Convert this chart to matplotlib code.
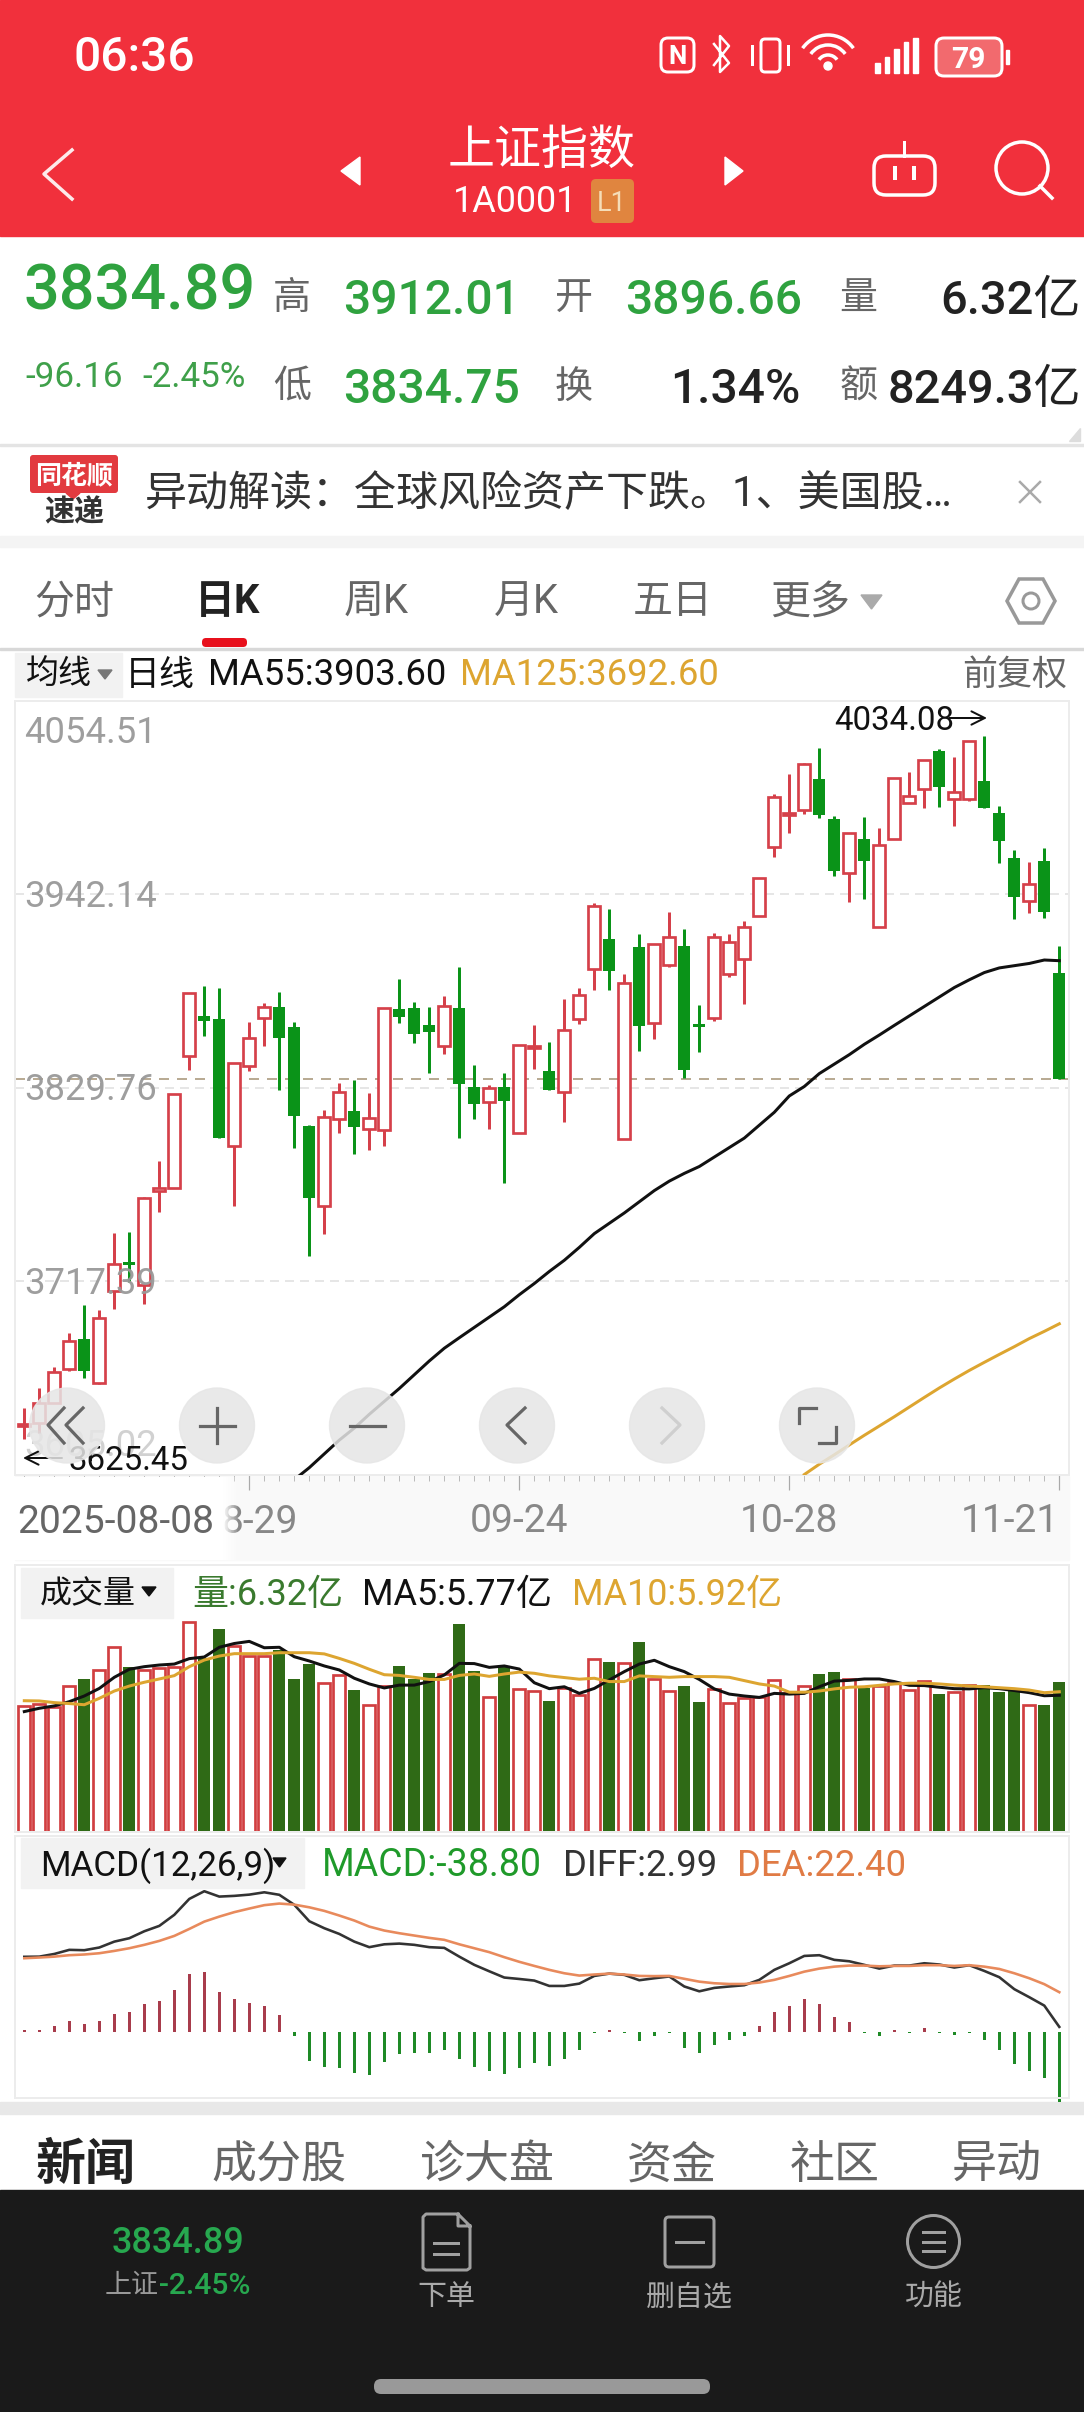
import matplotlib
matplotlib.use("Agg")
import matplotlib.pyplot as plt
from matplotlib.patches import Arc, Circle, FancyBboxPatch, Polygon, Rectangle
import numpy as np

W, H = 1084, 2412
FONT = ["Roboto", "Noto Sans CJK SC", "DejaVu Sans"]

# daily candles, 2025-08-08 .. 2025-11-21
OPEN = [3633.0, 3635.2, 3646.4, 3666.2, 3683.8, 3658.0, 3711.9, 3728.3, 3715.2, 3770.0,
        3771.3, 3848.2, 3871.5, 3869.7, 3795.9, 3842.6, 3870.1, 3876.9, 3865.3, 3807.5,
        3761.0, 3811.6, 3816.3, 3806.0, 3805.4, 3875.7, 3876.3, 3866.3, 3854.2, 3876.3,
        3830.0, 3821.3, 3830.0, 3803.7, 3853.0, 3839.7, 3827.5, 3869.5, 3898.6, 3916.0,
        3800.0, 3911.4, 3867.2, 3901.1, 3912.3, 3866.8, 3870.5, 3895.9, 3904.4, 3929.8,
        3969.9, 3988.0, 3991.2, 4009.0, 3985.9, 3954.8, 3974.1, 3923.0, 3974.1, 3995.5,
        4003.2, 4025.5, 3997.6, 3997.6, 4008.2, 3989.6, 3963.1, 3938.3, 3961.5, 3896.66]
CLOSE = [3634.2, 3646.4, 3664.8, 3682.6, 3665.4, 3695.8, 3727.4, 3726.8, 3765.9, 3771.3,
         3825.95, 3884.65, 3868.8, 3800.3, 3844.3, 3858.5, 3876.9, 3858.5, 3813.5, 3765.5,
         3812.6, 3827.1, 3807.2, 3812.0, 3876.3, 3871.1, 3860.8, 3862.4, 3877.3, 3831.8,
         3820.3, 3829.4, 3821.9, 3854.6, 3854.2, 3828.5, 3863.3, 3883.7, 3935.4, 3897.8,
         3890.5, 3865.7, 3913.3, 3917.6, 3840.1, 3865.2, 3917.6, 3914.7, 3923.4, 3951.5,
         3999.0, 3989.6, 4017.9, 3988.3, 3955.9, 3978.0, 3961.5, 3970.8, 4009.6, 3999.3,
         4020.2, 4004.3, 4001.8, 4031.3, 3992.1, 3973.4, 3940.8, 3948.0, 3932.1, 3834.89]
HIGH = [3643.5, 3655.1, 3667.3, 3687.1, 3703.3, 3700.6, 3745.2, 3746.2, 3766.5, 3787.4,
        3825.95, 3884.65, 3888.9, 3887.5, 3844.3, 3868.2, 3879.2, 3885.6, 3868.2, 3808.1,
        3816.8, 3832.7, 3834.3, 3826.9, 3876.3, 3893.0, 3879.8, 3876.9, 3883.1, 3900.1,
        3843.0, 3831.4, 3838.1, 3854.6, 3866.2, 3856.5, 3881.2, 3887.6, 3937.0, 3933.5,
        3895.7, 3918.9, 3913.3, 3931.7, 3921.8, 3877.9, 3919.5, 3918.9, 3926.7, 3951.5,
        4000.3, 4011.9, 4018.3, 4027.0, 3987.7, 3978.0, 3986.9, 3980.5, 4009.6, 4013.1,
        4020.2, 4026.4, 4021.8, 4031.3, 4034.08, 3993.5, 3967.9, 3960.8, 3968.9, 3912.01]
LOW = [3625.45, 3629.0, 3646.4, 3665.3, 3661.1, 3657.6, 3701.4, 3717.0, 3704.1, 3757.6,
       3771.3, 3840.1, 3860.0, 3800.3, 3761.0, 3839.7, 3854.0, 3828.5, 3794.6, 3732.0,
       3744.8, 3803.3, 3791.3, 3793.6, 3795.9, 3867.2, 3856.0, 3838.5, 3849.4, 3800.8,
       3811.6, 3806.0, 3774.2, 3803.7, 3840.5, 3828.5, 3809.7, 3866.8, 3886.6, 3886.6,
       3800.0, 3851.3, 3858.1, 3900.0, 3835.6, 3850.8, 3868.8, 3894.0, 3878.3, 3929.8,
       3964.0, 3978.0, 3988.7, 3986.3, 3953.0, 3937.9, 3939.5, 3923.0, 3974.1, 3995.1,
       3992.1, 3993.1, 3982.1, 3996.2, 3992.1, 3960.2, 3927.7, 3931.1, 3928.6, 3834.75]

MA55_START = 18
MA55 = [3602, 3609, 3617, 3625, 3632, 3640, 3647.5, 3655, 3663, 3671, 3678.4, 3684.5, 3690.5,
        3696.5, 3702.5, 3709.5, 3716, 3723, 3729.5, 3737, 3745, 3751, 3757, 3763.5, 3770,
        3775.5, 3780, 3784, 3789.5, 3795, 3800.5, 3808, 3815.5, 3825, 3830.5, 3838, 3843.5,
        3849, 3855, 3860.4, 3866, 3871.5, 3877, 3882.5, 3888, 3892.5, 3896.7, 3899.4, 3900.7,
        3902, 3904, 3903.6]
MA125_START = 52
MA125 = [3605, 3611, 3616.5, 3622.2, 3627.8, 3633.2, 3638.6, 3644.2, 3649.8, 3655.3, 3660.5,
         3665.5, 3670.2, 3674.8, 3679.3, 3684, 3688.2, 3692.6]

PRICE_TICKS = [4054.51, 3942.14, 3829.76, 3717.39, 3605.02]
DATE_TICKS = [15, 33, 51, 69]
DATE_LABELS = ["", "09-24", "10-28", "11-21"]  # the first one is half hidden, drawn by hand below

VOLUME = [5.32, 5.40, 5.29, 6.16, 6.47, 6.84, 7.80, 6.95, 6.84, 6.91, 6.95, 8.88, 7.33, 8.59,
          7.86, 7.43, 7.43, 7.69, 6.44, 7.09, 6.30, 6.63, 5.99, 5.36, 6.16, 7.01, 6.44, 6.73,
          6.67, 8.77, 6.81, 5.71, 6.95, 6.05, 5.95, 5.52, 6.06, 5.78, 7.29, 7.19, 7.12, 8.01,
          6.46, 5.97, 6.18, 5.50, 6.04, 5.43, 5.64, 5.71, 6.42, 5.85, 6.16, 6.68, 6.75, 6.44,
          6.06, 6.16, 6.28, 6.00, 6.39, 5.82, 5.91, 6.20, 6.19, 5.92, 6.06, 5.35, 5.35, 6.32]
VOL_MA5 = [5.08, 5.22, 5.32, 5.50, 5.74, 6.06, 6.53, 6.87, 6.98, 7.05, 7.09, 7.32, 7.39, 7.80,
           7.96, 8.05, 7.78, 7.80, 7.40, 7.22, 7.01, 6.84, 6.49, 6.25, 6.08, 6.20, 6.20, 6.35,
           6.63, 7.12, 7.11, 6.95, 7.01, 6.88, 6.30, 6.05, 6.13, 5.85, 6.06, 6.42, 6.77, 7.09,
           7.25, 6.98, 6.77, 6.44, 6.04, 5.82, 5.74, 5.68, 5.85, 5.82, 5.85, 6.13, 6.37, 6.40,
           6.46, 6.46, 6.35, 6.19, 6.18, 6.11, 6.05, 6.04, 6.09, 6.05, 5.97, 5.88, 5.75, 5.77]
VOL_MA10 = [5.54, 5.53, 5.46, 5.42, 5.37, 5.64, 5.95, 6.16, 6.32, 6.46, 6.60, 6.98, 7.26, 7.43,
            7.53, 7.53, 7.53, 7.57, 7.57, 7.57, 7.52, 7.33, 7.12, 6.87, 6.64, 6.61, 6.53, 6.44,
            6.44, 6.61, 6.67, 6.57, 6.67, 6.75, 6.70, 6.59, 6.52, 6.45, 6.49, 6.35, 6.35, 6.59,
            6.56, 6.53, 6.56, 6.56, 6.56, 6.53, 6.39, 6.25, 6.16, 5.90, 5.90, 5.95, 6.04, 6.11,
            6.13, 6.19, 6.25, 6.28, 6.28, 6.25, 6.20, 6.16, 6.13, 6.09, 6.05, 5.99, 5.88, 5.92]

MACD = [1.0, 1.5, 3.5, 6.3, 4.7, 6.3, 10.4, 11.4, 15.9, 17.3, 23.5, 32.6, 33.6, 22.6, 18.8, 16.2,
        14.7, 9.5, -1.9, -15.9, -19.2, -19.8, -22.6, -23.7, -16.4, -12.3, -11.6, -11.4, -9.9,
        -14.9, -19.6, -21.5, -23.3, -19.8, -17.3, -18.7, -14.9, -9.9, -0.3, 1.1, -0.3, -4.8,
        -1.9, -0.3, -9.1, -11.9, -6.9, -4.3, -1.9, 3.5, 11.6, 14.7, 18.7, 16.0, 8.8, 5.8, -0.6,
        -2.0, 1.1, -0.6, 2.4, -0.6, -1.3, -0.4, -4.3, -10.0, -17.7, -21.5, -25.4, -38.8]
DIFF = [42.2, 42.3, 43.8, 46.1, 45.9, 47.4, 50.7, 52.6, 56.5, 59.5, 65.7, 74.6, 78.9, 75.9, 76.3,
        77.0, 78.3, 76.9, 71.3, 62.1, 58.2, 55.0, 50.7, 47.6, 49.2, 49.6, 48.9, 47.6, 47.2, 42.3,
        37.7, 34.1, 30.6, 29.8, 28.9, 25.9, 25.9, 27.2, 31.5, 32.8, 32.1, 29.1, 30.2, 31.2, 25.6,
        22.9, 24.8, 25.6, 26.3, 29.3, 34.9, 38.6, 42.7, 43.1, 40.5, 39.7, 37.7, 35.6, 37.3, 37.3,
        38.6, 37.9, 36.2, 37.5, 34.3, 30.8, 24.1, 19.6, 14.9, 2.99]
DEA = [41.4, 41.8, 42.3, 43.1, 43.5, 44.2, 45.5, 47.0, 48.9, 51.1, 53.9, 57.8, 61.9, 64.7, 67.2,
       69.2, 71.1, 72.0, 71.4, 69.9, 67.9, 65.3, 62.5, 59.1, 56.9, 55.4, 54.1, 52.8, 51.7, 49.2,
       47.0, 44.8, 42.0, 39.4, 37.1, 34.9, 33.0, 31.7, 32.3, 32.8, 32.3, 31.5, 31.4, 31.5, 29.9,
       28.3, 27.4, 27.0, 27.0, 27.8, 29.3, 31.5, 33.9, 35.6, 36.7, 37.3, 37.3, 36.9, 37.1, 37.1,
       37.5, 37.5, 37.1, 37.5, 36.7, 35.4, 33.0, 30.2, 26.9, 22.4]

RED = "#D5404A"
GREEN = "#0A9318"
VOL_RED = "#D13E40"
VOL_GREEN = "#2F6A16"
GOLD = "#DDA530"
PX = 0.72  # one pixel in points at dpi 100

fig = plt.figure(figsize=(W / 100, H / 100), dpi=100, facecolor="white")


def px_axes(left, top, right, bottom, zorder=1):
    ax = fig.add_axes([left / W, 1 - bottom / H, (right - left) / W, (bottom - top) / H], zorder=zorder)
    ax.patch.set_alpha(0)
    return ax


def overlay(zorder):
    ax = px_axes(0, 0, W, H, zorder)
    ax.set_xlim(0, W)
    ax.set_ylim(H, 0)
    ax.axis("off")
    return ax


def label(ax, x, yc, s, size, color, ha="left", weight="normal", alpha=1.0, z=10):
    # yc is the centre of the glyphs, size the em in pixels
    return ax.text(x, yc + 0.36 * size, s, fontsize=size * PX, color=color, ha=ha, va="baseline",
                   family=FONT, fontweight=weight, alpha=alpha, zorder=z)


def rbox(ax, x0, y0, x1, y1, r, **kw):
    ax.add_patch(FancyBboxPatch((x0 + r, y0 + r), x1 - x0 - 2 * r, y1 - y0 - 2 * r,
                                boxstyle=f"round,pad={r},rounding_size={r}", **kw))


def style_panel(ax, left, right):
    ax.set_xlim((left - 24.3) / 15, (right - 24.3) / 15)
    for sp in ax.spines.values():
        sp.set_color("#ECECEC")
        sp.set_linewidth(2 * PX)
    ax.tick_params(left=False, labelleft=False, bottom=False, labelbottom=False)


bg = overlay(0)
fg = overlay(5)
FL, FR = 15.4, 1068.5
x = np.arange(len(OPEN))
up = np.array(CLOSE) >= np.array(OPEN)

# ---- page background
bg.add_patch(Rectangle((0, 0), W, 236, color="#F1303C"))
bg.add_patch(Rectangle((0, 444), W, 2, color="#E4E4E4"))
bg.add_patch(Rectangle((0, 536), W, 11, color="#F4F4F4"))
bg.add_patch(Rectangle((0, 648), W, 1.5, color="#D8D8D8"))
bg.add_patch(Rectangle((0, 2102), W, 12, color="#E8E8E8"))
bg.add_patch(Rectangle((0, 2190), W, H - 2190, color="#1A1A1A"))
bg.add_patch(Rectangle((FL, 1476), FR - FL, 84, color="#F9F9F9"))

# ---- candles
ax = px_axes(FL, 701, FR, 1474.5)
style_panel(ax, FL, FR)
ax.set_ylim(3605.02, 4054.51)
for p in PRICE_TICKS[1:4]:
    ax.axhline(p, color="#DEDEDE", lw=1.5 * PX, dashes=(6, 4), zorder=1)
ax.axhline(CLOSE[-1], color="#B9AB94", lw=2 * PX, dashes=(5, 4), zorder=1.5)
for i in x:
    c = RED if up[i] else GREEN
    ax.vlines(i, LOW[i], HIGH[i], color=c, lw=3 * PX, zorder=2)
    if up[i]:
        ax.bar(i, CLOSE[i] - OPEN[i], bottom=OPEN[i], width=0.82, facecolor="white",
               edgecolor=c, linewidth=2.7 * PX, zorder=3)
    else:
        ax.bar(i, OPEN[i] - CLOSE[i], bottom=CLOSE[i], width=0.8, color=c, zorder=3)
ax.plot(np.arange(len(MA55)) + MA55_START, MA55, color="#111111", lw=3 * PX, zorder=4)
ax.plot(np.arange(len(MA125)) + MA125_START, MA125, color=GOLD, lw=3 * PX, zorder=4)
ax.set_xticks(DATE_TICKS)
ax.set_xticks(x, minor=True)
ax.tick_params(axis="x", which="major", bottom=True, labelbottom=True, length=15 * PX, width=1.2 * PX,
               color="#AAAAAA", pad=13 * PX)
ax.tick_params(axis="x", which="minor", bottom=True, length=6 * PX, width=1 * PX, color="#BBBBBB")
ax.set_xticklabels(DATE_LABELS, family=FONT, fontsize=39 * PX, color="#888888")
ax.get_xticklabels()[-1].set_ha("right")

# ---- volume
ax_vol = px_axes(FL, 1565, FR, 1831.7)
style_panel(ax_vol, FL, FR)
ax_vol.set_ylim(0, 11.28)
for i in x:
    if up[i]:
        ax_vol.bar(i, VOLUME[i], width=0.82, facecolor="white", edgecolor=VOL_RED,
                   linewidth=2.7 * PX, zorder=2)
    else:
        ax_vol.bar(i, VOLUME[i], width=0.8, color=VOL_GREEN, zorder=2)
ax_vol.plot(x, VOL_MA5, color="#111111", lw=3 * PX, zorder=3)
ax_vol.plot(x, VOL_MA10, color=GOLD, lw=3 * PX, zorder=4)

# ---- macd
ax_macd = px_axes(FL, 1836, FR, 2098)
style_panel(ax_macd, FL, FR)
ax_macd.set_ylim(-36.8, 109.8)
hist_colors = ["#A83C4C" if v > 0 else "#1E8A26" for v in MACD]
ax_macd.bar(x, MACD, width=0.2, color=hist_colors, clip_on=False, zorder=2)
ax_macd.plot(x, DIFF, color="#333333", lw=2.6 * PX, zorder=3)
ax_macd.plot(x, DEA, color="#E88A5C", lw=2.6 * PX, zorder=4)

# ---- header
label(fg, 73, 54, "06:36", 48, "white", weight="medium")
rbox(fg, 661, 38, 694, 72, 7, fc="none", ec="white", lw=3 * PX)
label(fg, 677.5, 55, "N", 26, "white", ha="center", weight="bold")
fg.plot([714, 729, 720, 720, 729, 714], [44, 63, 72, 36, 46, 65], color="white", lw=2.5 * PX)
rbox(fg, 761, 39, 780, 72, 4, fc="none", ec="white", lw=3 * PX)
fg.plot([752, 752], [46, 64], color="white", lw=3 * PX)
fg.plot([788, 788], [46, 64], color="white", lw=3 * PX)
for r in (11, 21, 31):
    fg.add_patch(Arc((828, 66), 2 * r, 2 * r, theta1=215, theta2=325, color="white", lw=3.5 * PX))
fg.add_patch(Circle((828, 66), 4, color="white"))
for k, h in enumerate((10, 16, 24, 31, 35)):
    fg.add_patch(Rectangle((875 + k * 9.5, 73 - h), 4.5, h, color="white"))
rbox(fg, 936, 38, 1002, 76, 8, fc="#F26A6E", ec="white", lw=3 * PX)
fg.add_patch(Rectangle((1006, 50), 3, 14, color="white"))
label(fg, 968, 57, "79", 30, "white", ha="center", weight="bold")

label(fg, 542, 147, "上证指数", 47, "white", ha="center")
fg.add_patch(Polygon([[360, 157], [360, 185], [341, 171]], color="white"))
fg.add_patch(Polygon([[725, 157], [725, 185], [743, 171]], color="white"))
label(fg, 453, 199, "1A0001", 36, "white")
rbox(fg, 591, 179, 634, 223, 5, fc="#E0853F", ec="none")
label(fg, 612, 201, "L1", 27, "#F5DDB8", ha="center")
fg.plot([72, 44, 72], [150, 174, 199], color="white", lw=3.5 * PX, alpha=0.9)
rbox(fg, 874, 156, 935, 195, 12, fc="none", ec="white", lw=3.5 * PX)
fg.plot([904, 904], [142, 156], color="white", lw=3 * PX)
fg.plot([895, 895], [168, 178], color="white", lw=4 * PX)
fg.plot([914, 914], [168, 178], color="white", lw=4 * PX)
fg.add_patch(Circle((1022, 168), 26, fc="none", ec="white", lw=3.5 * PX))
fg.plot([1040, 1052], [186, 198], color="white", lw=3.5 * PX)

# ---- quote block
QG = "#2FA23F"
label(fg, 24, 287, "3834.89", 63, QG, weight="medium")
label(fg, 273, 295, "高", 38, "#666666")
label(fg, 343, 297, "3912.01", 48, QG, weight="medium")
label(fg, 555, 295, "开", 38, "#666666")
label(fg, 625, 297, "3896.66", 48, QG, weight="medium")
label(fg, 839, 295, "量", 38, "#666666")
label(fg, 1081, 297, "6.32亿", 47, "#222222", ha="right", weight="medium")
label(fg, 25, 374, "-96.16", 35, "#3FA04A")
label(fg, 142, 374, "-2.45%", 35, "#3FA04A")
label(fg, 273, 384, "低", 38, "#666666")
label(fg, 343, 386, "3834.75", 48, QG, weight="medium")
label(fg, 555, 384, "换", 38, "#666666")
label(fg, 800, 386, "1.34%", 48, "#222222", ha="right", weight="medium")
label(fg, 839, 384, "额", 38, "#666666")
label(fg, 1081, 386, "8249.3亿", 47, "#222222", ha="right", weight="medium")
fg.add_patch(Polygon([[1080, 428], [1080, 441], [1069, 441]], color="#DDDDDD"))

# ---- news strip
rbox(fg, 30, 455, 118, 493, 3, fc="#E23A3F", ec="none")
fg.add_patch(Polygon([[66, 493], [80, 493], [73, 499]], color="#E23A3F"))
label(fg, 74, 474, "同花顺", 26, "white", ha="center", weight="bold")
label(fg, 74, 511, "速递", 30, "#333333", ha="center", weight="bold")
label(fg, 145, 491, "异动解读：全球风险资产下跌。1、美国股…", 42, "#333333")
fg.plot([1020, 1040], [482, 502], color="#AAAAAA", lw=2.5 * PX)
fg.plot([1040, 1020], [482, 502], color="#AAAAAA", lw=2.5 * PX)

# ---- period tabs
for cx, s in [(74, "分时"), (376, "周K"), (526, "月K"), (673, "五日"), (810, "更多")]:
    label(fg, cx, 599, s, 40, "#666666", ha="center")
label(fg, 228, 599, "日K", 40, "#222222", ha="center", weight="bold")
fg.add_patch(Polygon([[861, 595], [882, 595], [871.5, 609]], color="#AAAAAA"))
rbox(fg, 202, 638, 247, 647, 4, fc="#E8101C", ec="none")
fg.add_patch(Polygon([[1007, 601], [1019, 579], [1043, 579], [1055, 601], [1043, 623], [1019, 623]],
                     fc="none", ec="#999999", lw=3.5 * PX))
fg.add_patch(Circle((1031, 601), 8, fc="none", ec="#999999", lw=3 * PX))

# ---- legends
bg.add_patch(Rectangle((15, 653), 107, 44, color="#F2F2F2"))
label(fg, 26, 672, "均线", 33, "#111111")
fg.add_patch(Polygon([[98, 670], [112, 670], [105, 679]], color="#777777"))
label(fg, 125, 672, "日线", 35, "#111111")
label(fg, 208, 672, "MA55:3903.60", 36.5, "#111111")
label(fg, 460, 672, "MA125:3692.60", 36.5, GOLD)
label(fg, 962, 672, "前复权", 35, "#666666")

bg.add_patch(Rectangle((21, 1568), 152, 50, color="#F2F2F2"))
label(fg, 40, 1592, "成交量", 32, "#111111")
fg.add_patch(Polygon([[142, 1587], [156, 1587], [149, 1596]], color="#111111"))
label(fg, 192, 1592, "量:6.32亿", 36, "#3A7A2E")
label(fg, 362, 1592, "MA5:5.77亿", 36, "#111111")
label(fg, 572, 1592, "MA10:5.92亿", 36, GOLD)

bg.add_patch(Rectangle((21, 1838), 283, 50, color="#F2F2F2"))
label(fg, 40, 1863, "MACD(12,26,9)", 35, "#111111")
fg.add_patch(Polygon([[273, 1858], [286, 1858], [279.5, 1867]], color="#111111"))
label(fg, 322, 1863, "MACD:-38.80", 37.5, "#1F9A2A")
label(fg, 563, 1863, "DIFF:2.99", 36.5, "#333333")
label(fg, 737, 1863, "DEA:22.40", 36.5, "#E07B45")

# ---- price labels and extremes
for p, yc in zip(PRICE_TICKS, [730, 894, 1087, 1281, 1443]):
    label(fg, 24, yc, f"{p:.2f}", 36.5, "#999999", alpha=0.45 if p < 3700 else 0.95, z=3)
label(fg, 834, 718, "4034.08", 33, "#111111")
ARROW = dict(arrowstyle="->", color="#111111", lw=2 * PX, shrinkA=0, shrinkB=0, mutation_scale=24)
fg.annotate("", xy=(987, 718), xytext=(949, 718), arrowprops=ARROW)
label(fg, 68, 1458, "3625.45", 33, "#111111", z=3)
fg.annotate("", xy=(23, 1458), xytext=(62, 1458), arrowprops=ARROW)

# ---- fade over the left of the date axis
label(fg, 298, 1519, "8-29", 39, "#888888", ha="right", z=0.5)
fade = np.ones((1, 80, 4))
fade[0, :, 3] = np.r_[np.ones(74), np.linspace(1, 0, 6)]
fg.imshow(fade, extent=(0, 240, 1560, 1477), aspect="auto", zorder=1)
fg.set_xlim(0, W)
fg.set_ylim(H, 0)
label(fg, 17, 1519, "2025-08-08", 39, "#666666", z=3)

# ---- chart buttons
for cx in (67, 217, 367, 517, 667, 817):
    fg.add_patch(Circle((cx, 1425.5), 37.5, color="#E6E6E6", alpha=0.85, zorder=5))
ICON = dict(color="#666666", lw=3.2 * PX, zorder=6)
fg.plot([64, 48, 64], [1408, 1425, 1443], **ICON)
fg.plot([83, 66, 83], [1408, 1425, 1443], **ICON)
fg.plot([200, 235], [1425.5, 1425.5], **ICON)
fg.plot([217, 217], [1408, 1443], **ICON)
fg.plot([350, 385], [1425.5, 1425.5], **ICON)
fg.plot([525, 507, 525], [1408, 1425, 1443], **ICON)
fg.plot([662, 680, 662], [1408, 1425, 1443], color="#CFCFCF", lw=3.2 * PX, zorder=6)
fg.plot([799, 799, 816], [1423, 1408, 1408], **ICON)
fg.plot([836, 836, 819], [1427, 1443, 1443], **ICON)

# ---- lower tabs and dark bar
label(fg, 86, 2162, "新闻", 50, "#222222", ha="center", weight="bold")
for cx, s in [(279, "成分股"), (487, "诊大盘"), (672, "资金"), (835, "社区"), (997, "异动")]:
    label(fg, cx, 2162, s, 45, "#666666", ha="center")
label(fg, 178, 2240, "3834.89", 36, "#27A84F", ha="center", weight="medium")
label(fg, 105, 2283, "上证", 27, "#999999")
label(fg, 159, 2283, "-2.45%", 30, "#27A84F", weight="medium")
BTN = dict(color="#A0A0A0", lw=3 * PX)
fg.plot([458, 426, 423, 423, 426, 467, 470, 470, 458, 458, 470], [2214, 2214, 2217, 2268, 2270, 2270, 2268, 2226, 2214, 2226, 2226], **BTN)
fg.plot([434, 458], [2243, 2243], **BTN)
fg.plot([434, 458], [2254, 2254], **BTN)
rbox(fg, 665, 2217, 714, 2267, 4, fc="none", ec="#A0A0A0", lw=3 * PX)
fg.plot([676, 703], [2242, 2242], **BTN)
fg.add_patch(Circle((933.5, 2241.5), 26, fc="none", ec="#A0A0A0", lw=3 * PX))
for yy in (2232, 2241.5, 2251):
    fg.plot([923, 944], [yy, yy], **BTN)
label(fg, 446, 2295, "下单", 29, "#AAAAAA", ha="center")
label(fg, 689, 2295, "删自选", 29, "#AAAAAA", ha="center")
label(fg, 934, 2295, "功能", 29, "#AAAAAA", ha="center")
rbox(fg, 374, 2379, 710, 2394, 7, fc="#999999", ec="none")

fig.savefig("out.png", dpi=100)
